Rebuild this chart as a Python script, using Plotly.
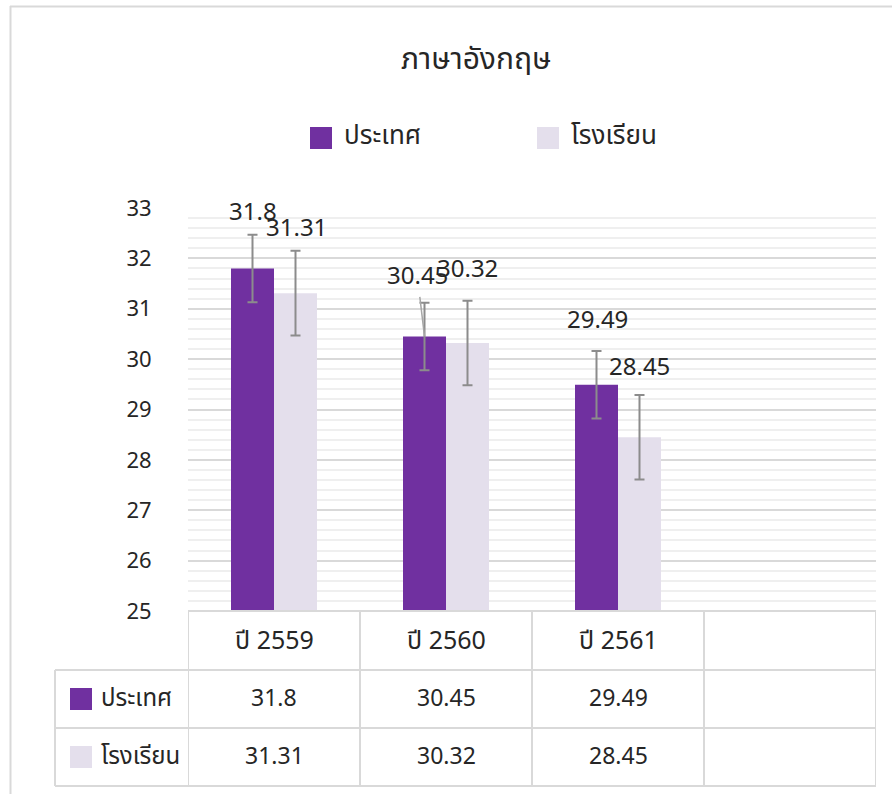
import plotly.graph_objects as go

# ---- data -------------------------------------------------------------
categories = ["ปี 2559", "ปี 2560", "ปี 2561"]
series_names = ["ประเทศ", "โรงเรียน"]
country = [31.8, 30.45, 29.49]
school = [31.31, 30.32, 28.45]
country_err = [0.67, 0.67, 0.67]
school_err = [0.84, 0.84, 0.84]

# ---- styling ----------------------------------------------------------
W, H = 892, 794
PURPLE = "#7030a0"
LAVENDER = "#e4dfec"
GRID = "#d9d9d9"
MINOR = "#efefef"
TEXT = "#262626"
FONT = "Noto Sans Thai, Leelawadee UI, Tahoma, Noto Sans, DejaVu Sans, sans-serif"

n_slots = len(categories) + 1          # one empty column at the right
bar_w = 0.25                           # width of one bar in category units

# pixel layout helpers
plot_left, plot_right = 188, 876
plot_top, plot_bottom = 208, 611
row_lines = [611, 670, 728, 786]       # table horizontal rules
table_left = 55


def py(p):
    return (H - p) / H


def px(p):
    return p / W


fig = go.Figure()

for name, vals, errs, color in [
    (series_names[0], country, country_err, PURPLE),
    (series_names[1], school, school_err, LAVENDER),
]:
    fig.add_trace(go.Bar(
        x=list(range(len(categories))),
        y=vals,
        name=name,
        marker=dict(color=color, line=dict(width=0)),
        error_y=dict(type="data", array=errs, visible=True,
                     color="#8c8c8c", thickness=2, width=5),
        showlegend=False,
        hoverinfo="skip",
    ))

annotations = []
shapes = []

# value labels above each bar (offsets in px: dx, dy above value)
country_lbl = [(0, -55, False), (-7, -59, True), (1, -64, False)]
school_lbl = [(1, -64, False), (0, -73, False), (0, -69, False)]
for vals, lbls, off in [(country, country_lbl, -bar_w / 2), (school, school_lbl, bar_w / 2)]:
    for i, (v, (dx, dy, lead)) in enumerate(zip(vals, lbls)):
        annotations.append(dict(
            x=i + off, y=v, xref="x", yref="y",
            text=f"{v:g}", showarrow=True, ax=dx, ay=dy,
            arrowhead=0, arrowwidth=1.5,
            arrowcolor="#a6a6a6" if lead else "rgba(0,0,0,0)",
            font=dict(size=24, color=TEXT, family=FONT),
        ))

# title
annotations.append(dict(
    x=px(476), y=py(60), xref="paper", yref="paper",
    text="ภาษาอังกฤษ", showarrow=False, xanchor="center", yanchor="middle",
    font=dict(size=30, color=TEXT, family=FONT),
))

# legend
for name, color, sx in [(series_names[0], PURPLE, 310), (series_names[1], LAVENDER, 537)]:
    shapes.append(dict(type="rect", xref="paper", yref="paper",
                       x0=px(sx), x1=px(sx + 22), y0=py(149), y1=py(127),
                       fillcolor=color, line=dict(width=0)))
    annotations.append(dict(
        x=px(sx + 32), y=py(136), xref="paper", yref="paper",
        text=name, showarrow=False, xanchor="left", yanchor="middle",
        font=dict(size=26, color=TEXT, family=FONT),
    ))

# data table below the plot
line_style = dict(color=GRID, width=2)
shapes.append(dict(type="line", xref="paper", yref="paper",
                   x0=px(plot_left), x1=px(plot_right),
                   y0=py(row_lines[0]), y1=py(row_lines[0]), line=line_style))
for r in row_lines[1:]:
    shapes.append(dict(type="line", xref="paper", yref="paper",
                       x0=px(table_left), x1=px(plot_right),
                       y0=py(r), y1=py(r), line=line_style))
for k in range(n_slots + 1):
    shapes.append(dict(type="line", xref="x", yref="paper",
                       x0=k - 0.5, x1=k - 0.5,
                       y0=py(row_lines[0]), y1=py(row_lines[-1]), line=line_style))
shapes.append(dict(type="line", xref="paper", yref="paper",
                   x0=px(table_left), x1=px(table_left),
                   y0=py(row_lines[1]), y1=py(row_lines[-1]), line=line_style))

header_y = (row_lines[0] + row_lines[1]) / 2
for i, c in enumerate(categories):
    annotations.append(dict(x=i, y=py(header_y), xref="x", yref="paper",
                            text=c, showarrow=False,
                            xanchor="center", yanchor="middle",
                            font=dict(size=25, color=TEXT, family=FONT)))

for r, (name, vals, color) in enumerate([
    (series_names[0], country, PURPLE),
    (series_names[1], school, LAVENDER),
]):
    cy = (row_lines[r + 1] + row_lines[r + 2]) / 2
    shapes.append(dict(type="rect", xref="paper", yref="paper",
                       x0=px(70), x1=px(92), y0=py(cy + 11), y1=py(cy - 11),
                       fillcolor=color, line=dict(width=0)))
    annotations.append(dict(x=px(99), y=py(cy), xref="paper", yref="paper",
                            text=name, showarrow=False,
                            xanchor="left", yanchor="middle",
                            font=dict(size=24, color=TEXT, family=FONT)))
    for i, v in enumerate(vals):
        annotations.append(dict(x=i, y=py(cy), xref="x", yref="paper",
                                text=f"{v:g}", showarrow=False,
                                xanchor="center", yanchor="middle",
                                font=dict(size=23, color=TEXT, family=FONT)))

# outer chart border (top and left edges)
border = dict(color="#d9d9d9", width=2)
shapes.append(dict(type="line", xref="paper", yref="paper",
                   x0=px(10), x1=1, y0=py(6.5), y1=py(6.5), line=border))
shapes.append(dict(type="line", xref="paper", yref="paper",
                   x0=px(10.5), x1=px(10.5), y0=py(6), y1=0, line=border))

fig.update_layout(
    width=W, height=H,
    margin=dict(l=0, r=0, t=0, b=0, autoexpand=False),
    paper_bgcolor="white", plot_bgcolor="white",
    barmode="group", bargap=0.5, bargroupgap=0,
    font=dict(family=FONT, color=TEXT),
    xaxis=dict(
        domain=[px(plot_left), px(plot_right)],
        range=[-0.5, n_slots - 0.5],
        showticklabels=False, showgrid=False, zeroline=False,
        showline=False, fixedrange=True, automargin=False,
    ),
    yaxis=dict(
        domain=[py(plot_bottom), py(plot_top)],
        range=[25, 33], dtick=1, tick0=25,
        showgrid=True, gridcolor=GRID, gridwidth=2,
        minor=dict(dtick=0.2, showgrid=True, gridcolor=MINOR, gridwidth=2),
        zeroline=False, showline=False,
        ticks="outside", ticklen=31, tickcolor="rgba(0,0,0,0)",
        tickfont=dict(size=22, color=TEXT, family=FONT),
        fixedrange=True, automargin=False,
    ),
    annotations=annotations,
    shapes=shapes,
)

fig.write_html("out.html")
